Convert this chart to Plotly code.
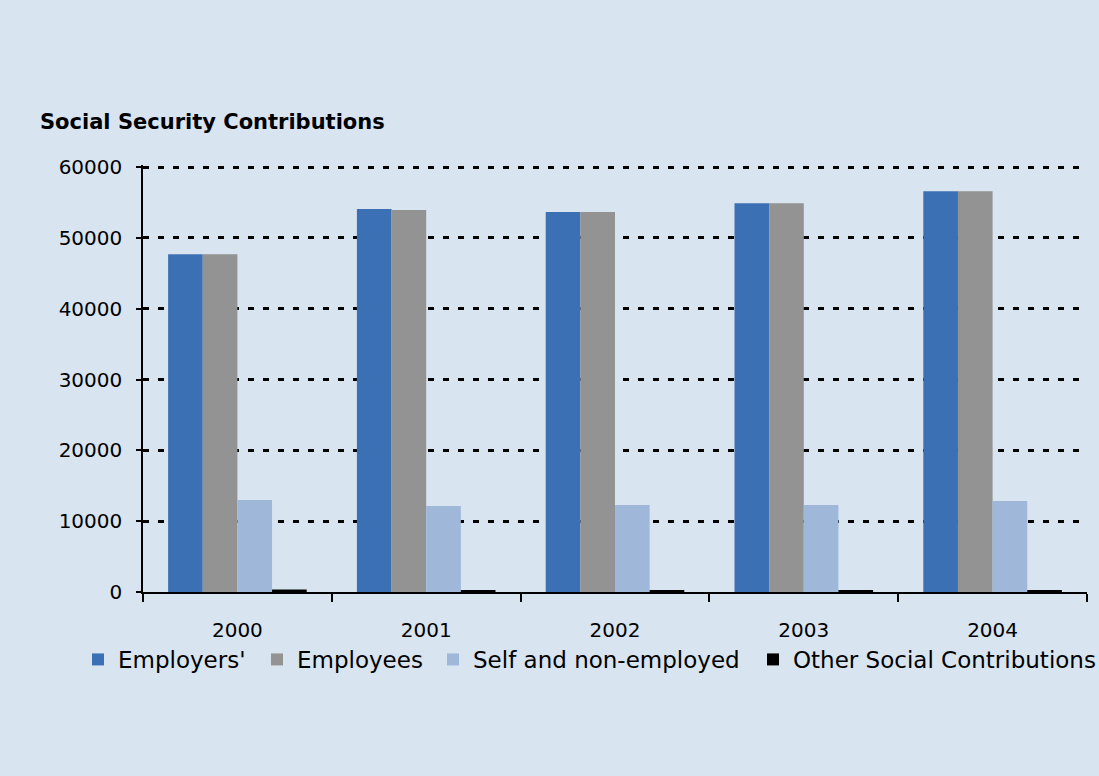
import plotly.graph_objects as go

years = ["2000", "2001", "2002", "2003", "2004"]
employers = [47700, 54100, 53650, 54900, 56600]
employees = [47700, 53950, 53650, 54900, 56600]
self_non_employed = [13000, 12150, 12300, 12300, 12850]
other_social = [350, 250, 300, 300, 250]

series = [
    ("Employers'", employers, "#3C70B5"),
    ("Employees", employees, "#939393"),
    ("Self and non-employed", self_non_employed, "#9FB8D9"),
    ("Other Social Contributions", other_social, "#000000"),
]

FONT = "DejaVu Sans"
BG = "#D8E4F0"

# left edge (px) of each legend entry and plot-area geometry
legend_left_px = [78, 257, 433, 753]
PLOT_L, PLOT_W = 143, 944

fig = go.Figure()
legend_ids = ["legend", "legend2", "legend3", "legend4"]
for (name, vals, color), lid in zip(series, legend_ids):
    fig.add_trace(go.Bar(x=years, y=vals, name=name, legend=lid,
                         marker=dict(color=color, line=dict(width=0))))

legend_style = dict(
    orientation="h",
    xanchor="left",
    y=-0.158, yanchor="middle",
    font=dict(family=FONT, size=23),
    bgcolor="rgba(0,0,0,0)",
    itemwidth=30,
)
for lid, px in zip(legend_ids, legend_left_px):
    fig.update_layout({lid: dict(legend_style, x=(px - PLOT_L) / PLOT_W)})

fig.update_layout(
    width=1099,
    height=776,
    paper_bgcolor=BG,
    plot_bgcolor=BG,
    barmode="group",
    bargap=0.266,
    bargroupgap=0,
    margin=dict(l=143, r=12, t=165, b=184, autoexpand=False),
    font=dict(family=FONT, size=20, color="#000000"),
    title=dict(
        text="<b>Social Security Contributions</b>",
        font=dict(family=FONT, size=21, color="#000000"),
        x=40 / 1099, xanchor="left", xref="container",
        y=1 - 122 / 776, yanchor="middle", yref="container",
    ),
    showlegend=True,
)

fig.update_xaxes(
    type="category",
    showline=True, linecolor="#000000", linewidth=1.5,
    ticks="outside", tickson="boundaries", ticklen=8, tickwidth=1.5, tickcolor="#000000",
    showgrid=False,
    tickfont=dict(family=FONT, size=20),
    ticklabelstandoff=19,
)
fig.update_yaxes(
    range=[0, 60300],
    tickvals=[0, 10000, 20000, 30000, 40000, 50000, 60000],
    ticktext=["0", "10000", "20000", "30000", "40000", "50000", "60000"],
    showline=True, linecolor="#000000", linewidth=1.5,
    ticks="outside", ticklen=5, tickwidth=1.5, tickcolor="#000000",
    showgrid=True, gridcolor="#000000", gridwidth=3, griddash="6px,9px",
    zeroline=False,
    tickfont=dict(family=FONT, size=20),
    ticklabelstandoff=10,
)

fig.write_html("out.html")
